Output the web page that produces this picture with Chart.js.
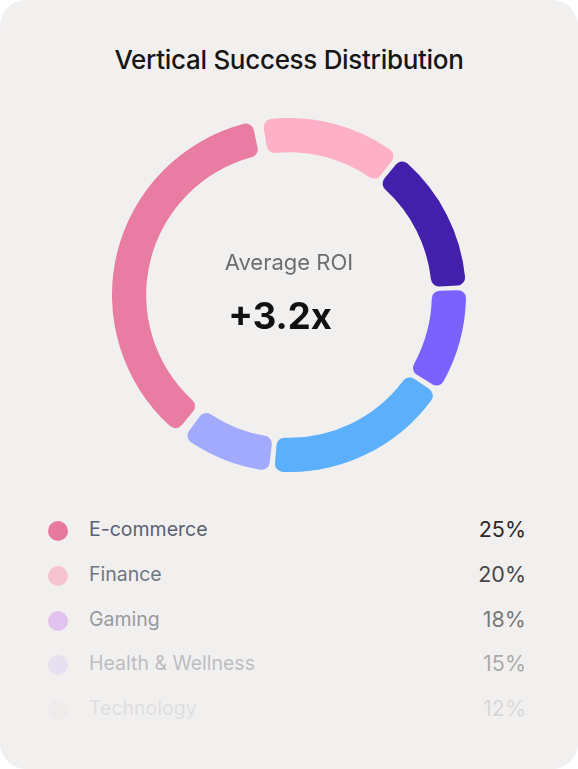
<!DOCTYPE html>
<html>
<head>
<meta charset="utf-8">
<script src="https://cdn.jsdelivr.net/npm/chart.js@4.4.1/dist/chart.umd.min.js"></script>
<style>
  html, body { margin:0; padding:0; background:#ffffff; }
  body { width:578px; height:769px; position:relative; overflow:hidden; font-family: Inter, "Noto Sans", sans-serif; }
  .card { position:absolute; left:0; top:0; width:578px; height:769px; background:#f2f0ef; border-radius:26px; }
  .title { position:absolute; left:0; width:578px; top:44px; text-align:center; font-size:26px; font-weight:500; color:#161616; letter-spacing:-0.3px; }
  .chartbox { position:absolute; left:112px; top:118px; width:354px; height:354px; }
  .center1 { position:absolute; left:0; width:578px; top:249px; text-align:center; font-size:22px; color:#6e6e6e; }
  .center2 { position:absolute; left:0; width:560px; top:294px; text-align:center; font-size:36.5px; font-weight:700; color:#111; }
  .legend { position:absolute; left:48px; top:515px; width:478px; }
  .row { position:relative; height:44.8px; }
  .dot { position:absolute; left:0; top:6px; width:20px; height:20px; border-radius:50%; }
  .lab { position:absolute; left:41px; top:2px; font-size:19.5px; color:#596072; }
  .val { position:absolute; right:0; top:1px; font-size:21.5px; color:#2a2a2a; }
</style>
</head>
<body>
<div class="card"></div>
<div class="title">Vertical Success Distribution</div>
<div class="chartbox"><canvas id="c" width="354" height="354" style="width:354px;height:354px"></canvas></div>
<div class="center1">Average ROI</div>
<div class="center2">+3.2x</div>
<div class="legend" id="legend"></div>
<script>
// Ring segments (clockwise from the light pink one near the top)
const ringValues = [13.3, 13.7, 9.7, 17.6, 8.6, 37.1];
const ringColors = ['#fdb0c8', '#4220ab', '#7b61fd', '#5cb0fb', '#a1aafd', '#e87ca2'];

// Legend list
const categories = ['E-commerce', 'Finance', 'Gaming', 'Health & Wellness', 'Technology'];
const shares = [25, 20, 18, 15, 12];
const legendColors = ['#e8799e', '#f8bccd', '#d9a5ee', '#cfc6f2', '#d0d0d0'];
const rowOpacity = [1, 0.85, 0.6, 0.35, 0.12];

new Chart(document.getElementById('c'), {
  type: 'doughnut',
  data: {
    labels: ringValues.map((v, i) => 'Segment ' + (i + 1)),
    datasets: [{
      data: ringValues,
      backgroundColor: ringColors,
      borderWidth: 0,
      borderRadius: 8,
      spacing: 12
    }]
  },
  options: {
    responsive: false,
    animation: false,
    cutout: '80%',
    rotation: -9.5,
    layout: { padding: 0 },
    plugins: { legend: { display: false }, tooltip: { enabled: false } }
  }
});

const leg = document.getElementById('legend');
categories.forEach((name, i) => {
  const row = document.createElement('div');
  row.className = 'row';
  row.style.opacity = rowOpacity[i];
  row.innerHTML = '<div class="dot" style="background:' + legendColors[i] + '"></div>' +
    '<div class="lab">' + name + '</div><div class="val">' + shares[i] + '%</div>';
  leg.appendChild(row);
});
</script>
</body>
</html>
